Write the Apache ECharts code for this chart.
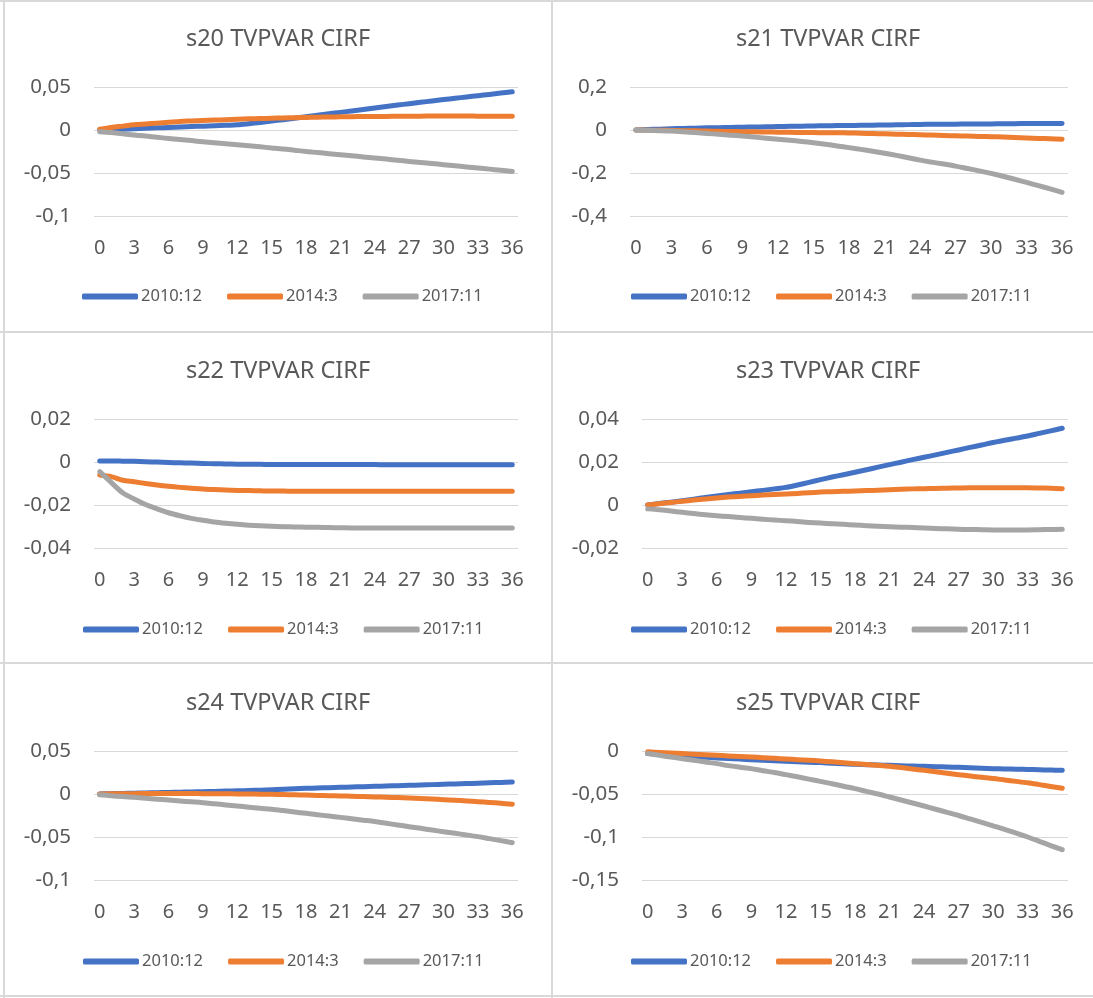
<!DOCTYPE html>
<html><head><meta charset="utf-8">
<script src="https://cdn.jsdelivr.net/npm/echarts@6/dist/echarts.min.js"></script>
<style>html,body{margin:0;padding:0;background:#fff}#c{width:1093px;height:998px}</style>
</head><body><div id="c"></div>
<script>
// ---------- DATA ----------
const horizons = ['0','1','2','3','4','5','6','7','8','9','10','11','12','13','14','15','16','17','18','19','20','21','22','23','24','25','26','27','28','29','30','31','32','33','34','35','36'];
const seriesNames = ['2010:12', '2014:3', '2017:11'];
const panelTitles = ['s20 TVPVAR CIRF', 's21 TVPVAR CIRF', 's22 TVPVAR CIRF', 's23 TVPVAR CIRF', 's24 TVPVAR CIRF', 's25 TVPVAR CIRF'];

const s20_2010_12 = [0,0.0005,0.001,0.0015,0.002,0.0025,0.003,0.0035,0.004,0.0045,0.005,0.0055,0.006,0.0073,0.0088,0.0104,0.012,0.0137,0.0154,0.0171,0.0188,0.0205,0.0222,0.0239,0.0257,0.0274,0.029,0.0306,0.0322,0.0338,0.0354,0.0369,0.0384,0.0399,0.0414,0.0429,0.0444];
const s20_2014_3  = [0.001,0.003,0.0045,0.006,0.007,0.008,0.009,0.010,0.0105,0.011,0.0115,0.012,0.0125,0.013,0.0133,0.0137,0.014,0.0143,0.0146,0.0149,0.0151,0.0153,0.0155,0.0156,0.0157,0.0158,0.0159,0.016,0.0161,0.0162,0.0162,0.0162,0.0162,0.0161,0.016,0.016,0.016];
const s20_2017_11 = [-0.002,-0.003,-0.0045,-0.0058,-0.007,-0.0085,-0.0098,-0.011,-0.0123,-0.0136,-0.0148,-0.016,-0.0172,-0.0184,-0.0196,-0.0208,-0.022,-0.0235,-0.025,-0.0262,-0.0275,-0.0288,-0.03,-0.0313,-0.0326,-0.0338,-0.0352,-0.0365,-0.0378,-0.039,-0.0403,-0.0416,-0.0429,-0.0442,-0.0455,-0.0468,-0.0483];

const s21_2010_12 = [0,0.002,0.004,0.006,0.007,0.0085,0.01,0.011,0.012,0.013,0.014,0.015,0.016,0.017,0.018,0.019,0.0197,0.0204,0.021,0.0218,0.0225,0.0232,0.024,0.025,0.026,0.0265,0.027,0.0273,0.0277,0.028,0.0283,0.029,0.0295,0.03,0.0305,0.0305,0.030];
const s21_2014_3  = [0,-0.0007,-0.0013,-0.002,-0.003,-0.004,-0.005,-0.006,-0.007,-0.008,-0.0087,-0.0094,-0.01,-0.0107,-0.0114,-0.012,-0.0125,-0.013,-0.0138,-0.015,-0.0165,-0.018,-0.0193,-0.0206,-0.022,-0.0237,-0.0254,-0.027,-0.0283,-0.0297,-0.031,-0.033,-0.035,-0.037,-0.039,-0.041,-0.043];
const s21_2017_11 = [0,-0.0015,-0.003,-0.005,-0.0085,-0.012,-0.016,-0.02,-0.024,-0.028,-0.033,-0.038,-0.043,-0.048,-0.053,-0.059,-0.066,-0.074,-0.082,-0.09,-0.099,-0.108,-0.118,-0.129,-0.14,-0.1495,-0.1585,-0.168,-0.179,-0.19,-0.202,-0.215,-0.229,-0.244,-0.259,-0.274,-0.29];

const s22_2010_12 = [0.0005,0.0005,0.0004,0.0003,0.0001,0,-0.0002,-0.0004,-0.0005,-0.0007,-0.0008,-0.0009,-0.001,-0.0011,-0.0011,-0.0012,-0.0012,-0.0012,-0.0012,-0.0012,-0.0012,-0.0012,-0.0012,-0.0012,-0.0012,-0.0013,-0.0013,-0.0013,-0.0013,-0.0013,-0.0013,-0.0013,-0.0013,-0.0013,-0.0013,-0.0013,-0.0013];
const s22_2014_3  = [-0.006,-0.0068,-0.0085,-0.0092,-0.01,-0.0107,-0.0113,-0.0118,-0.0122,-0.0126,-0.0128,-0.013,-0.0132,-0.0133,-0.0134,-0.0135,-0.0135,-0.0136,-0.0136,-0.0136,-0.0136,-0.0136,-0.0136,-0.0136,-0.0136,-0.0136,-0.0136,-0.0136,-0.0136,-0.0136,-0.0136,-0.0136,-0.0136,-0.0136,-0.0136,-0.0136,-0.0136];
const s22_2017_11 = [-0.0045,-0.0095,-0.0143,-0.0172,-0.0198,-0.0218,-0.0236,-0.025,-0.0262,-0.0271,-0.0279,-0.0285,-0.029,-0.0294,-0.0297,-0.0299,-0.0301,-0.0302,-0.0303,-0.0304,-0.0305,-0.0306,-0.0307,-0.0307,-0.0307,-0.0307,-0.0307,-0.0307,-0.0307,-0.0307,-0.0307,-0.0307,-0.0307,-0.0307,-0.0307,-0.0307,-0.0307];

const s23_2010_12 = [0,0.0007,0.0013,0.002,0.0027,0.0035,0.0042,0.0049,0.0055,0.0062,0.0068,0.0075,0.0082,0.0093,0.0105,0.0118,0.013,0.0141,0.0152,0.0164,0.0176,0.0188,0.0199,0.0211,0.0222,0.0233,0.0245,0.0256,0.0268,0.0279,0.0291,0.0301,0.0311,0.0321,0.0333,0.0345,0.0357];
const s23_2014_3  = [0,0.0006,0.0012,0.0017,0.0023,0.0028,0.0033,0.0037,0.004,0.0043,0.0046,0.0049,0.0051,0.0054,0.0057,0.006,0.0062,0.0064,0.0065,0.0067,0.0069,0.0071,0.0073,0.0075,0.0076,0.0077,0.0078,0.0079,0.008,0.008,0.008,0.008,0.008,0.008,0.0079,0.0078,0.0076];
const s23_2017_11 = [-0.0018,-0.0022,-0.0028,-0.0034,-0.004,-0.0045,-0.005,-0.0054,-0.0058,-0.0062,-0.0066,-0.007,-0.0073,-0.0077,-0.0081,-0.0084,-0.0087,-0.009,-0.0093,-0.0096,-0.0099,-0.0101,-0.0103,-0.0105,-0.0107,-0.0109,-0.0111,-0.0113,-0.0114,-0.0115,-0.0116,-0.0116,-0.0116,-0.0116,-0.0115,-0.0114,-0.0113];

const s24_2010_12 = [0,0.0003,0.0006,0.0009,0.0012,0.0015,0.0018,0.0021,0.0024,0.0027,0.003,0.0034,0.0037,0.0041,0.0045,0.0049,0.0054,0.006,0.0066,0.007,0.0074,0.0078,0.0081,0.0085,0.0089,0.0093,0.0097,0.0101,0.0105,0.0109,0.0113,0.0117,0.0121,0.0125,0.013,0.0135,0.014];
const s24_2014_3  = [0,0.0002,0.0003,0.0004,0.0005,0.0005,0.0005,0.0005,0.0005,0.0004,0.0003,0.0002,0.0001,0,-0.0002,-0.0004,-0.0007,-0.001,-0.0013,-0.0016,-0.0019,-0.0022,-0.0026,-0.003,-0.0034,-0.0038,-0.0042,-0.0047,-0.0053,-0.0059,-0.0066,-0.0073,-0.0081,-0.0089,-0.0098,-0.0108,-0.012];
const s24_2017_11 = [-0.001,-0.002,-0.003,-0.0039,-0.0049,-0.006,-0.007,-0.0081,-0.0091,-0.0101,-0.0114,-0.0127,-0.014,-0.0153,-0.0166,-0.0178,-0.0193,-0.0209,-0.0225,-0.0241,-0.0256,-0.0272,-0.0288,-0.0304,-0.032,-0.034,-0.036,-0.038,-0.0399,-0.0419,-0.0438,-0.0457,-0.0476,-0.0496,-0.0519,-0.0542,-0.0566];

const s25_2010_12 = [-0.003,-0.004,-0.005,-0.006,-0.0067,-0.0074,-0.008,-0.0087,-0.0094,-0.0101,-0.0108,-0.0114,-0.012,-0.0125,-0.013,-0.0135,-0.0142,-0.0148,-0.0155,-0.0159,-0.0163,-0.0167,-0.0171,-0.0175,-0.0178,-0.0182,-0.0186,-0.019,-0.0195,-0.02,-0.0205,-0.0208,-0.0211,-0.0214,-0.0218,-0.0222,-0.0225];
const s25_2014_3  = [-0.001,-0.0017,-0.0024,-0.003,-0.0037,-0.0044,-0.005,-0.0057,-0.0063,-0.007,-0.0078,-0.0085,-0.0093,-0.0101,-0.0108,-0.0116,-0.0126,-0.0136,-0.0147,-0.0157,-0.0167,-0.0178,-0.0193,-0.0209,-0.0225,-0.0242,-0.0258,-0.0275,-0.0291,-0.0306,-0.032,-0.0337,-0.0353,-0.037,-0.0391,-0.0412,-0.0434];
const s25_2017_11 = [-0.003,-0.005,-0.007,-0.0089,-0.0108,-0.0128,-0.0147,-0.017,-0.0188,-0.0205,-0.023,-0.025,-0.0275,-0.03,-0.0327,-0.0353,-0.038,-0.041,-0.0438,-0.047,-0.05,-0.0535,-0.057,-0.0605,-0.064,-0.0677,-0.0713,-0.075,-0.079,-0.083,-0.087,-0.091,-0.0955,-0.1,-0.105,-0.11,-0.1147];

// y-axis tick ranges per panel (min, max, step)
const yTicks = [
  [-0.1, 0.05, 0.05],
  [-0.4, 0.2, 0.2],
  [-0.04, 0.02, 0.02],
  [-0.02, 0.04, 0.02],
  [-0.1, 0.05, 0.05],
  [-0.15, 0, 0.05]
];

const panelData = [
  [s20_2010_12, s20_2014_3, s20_2017_11],
  [s21_2010_12, s21_2014_3, s21_2017_11],
  [s22_2010_12, s22_2014_3, s22_2017_11],
  [s23_2010_12, s23_2014_3, s23_2017_11],
  [s24_2010_12, s24_2014_3, s24_2017_11],
  [s25_2010_12, s25_2014_3, s25_2017_11]
];

// ---------- LAYOUT / STYLE ----------
const colors = ['#4472C4', '#ED7D31', '#A5A5A5'];
const txt = '#595959';
const FONT = 'Noto Sans';
const layout = [
  {grid: {left: 94,  top: 87,  width: 424, height: 129}, tx: 278, ty: 38,  lx: 82,  ly: 296},
  {grid: {left: 630, top: 87,  width: 438, height: 129}, tx: 828, ty: 38,  lx: 631, ly: 296},
  {grid: {left: 94,  top: 419, width: 424, height: 129}, tx: 278, ty: 370, lx: 83,  ly: 629},
  {grid: {left: 642, top: 419, width: 426, height: 129}, tx: 828, ty: 370, lx: 631, ly: 629},
  {grid: {left: 94,  top: 751, width: 424, height: 129}, tx: 278, ty: 702, lx: 83,  ly: 961},
  {grid: {left: 642, top: 751, width: 426, height: 129}, tx: 828, ty: 702, lx: 631, ly: 961}
];

function fmt(v) {
  const r = Math.round(v * 10000) / 10000;
  return String(r).replace('.', ',');
}

const option = {
  backgroundColor: '#ffffff',
  animation: false,
  title: [], legend: [], grid: [], xAxis: [], yAxis: [], series: [],
  graphic: []
};

layout.forEach((L, i) => {
  option.title.push({
    text: panelTitles[i], left: L.tx, top: L.ty - 11, textAlign: 'center', padding: 0,
    textStyle: {fontFamily: FONT, fontSize: 23.5, fontWeight: 'normal', color: txt}
  });
  option.grid.push(Object.assign({containLabel: false}, L.grid));
  option.xAxis.push({
    type: 'category', gridIndex: i, data: horizons, boundaryGap: true,
    axisLine: {show: false}, axisTick: {show: false},
    axisLabel: {interval: 2, margin: 22, fontFamily: FONT, fontSize: 20, color: txt},
    splitLine: {show: false}
  });
  option.yAxis.push({
    type: 'value', gridIndex: i, min: yTicks[i][0], max: yTicks[i][1], interval: yTicks[i][2],
    axisLine: {show: false}, axisTick: {show: false},
    axisLabel: {margin: 23, fontFamily: FONT, fontSize: 20.5, color: txt, formatter: fmt},
    splitLine: {lineStyle: {color: '#d9d9d9', width: 1}}
  });
  seriesNames.forEach((nm, k) => {
    option.series.push({
      type: 'line', name: nm, xAxisIndex: i, yAxisIndex: i,
      data: panelData[i][k], smooth: 0.3, symbol: 'none',
      lineStyle: {color: colors[k], width: 5, cap: 'round', join: 'round'},
      itemStyle: {color: colors[k]}, z: 3 + k
    });
  });
  option.legend.push({
    left: L.lx, top: L.ly - 8, orient: 'horizontal', padding: 0,
    data: seriesNames,
    icon: 'roundRect', itemWidth: 56, itemHeight: 6, itemGap: 25,
    textStyle: {fontFamily: FONT, fontSize: 16.5, color: txt, padding: [0, 0, 0, -2]},
    selectedMode: false
  });
});

// panel borders
const bc = '#d9d9d9';
[[4, 0, 4, 998], [552, 0, 552, 998], [0, 1, 1093, 1], [0, 332, 1093, 332], [0, 663, 1093, 663], [0, 996, 1093, 996]].forEach(l => {
  option.graphic.push({type: 'line', shape: {x1: l[0], y1: l[1], x2: l[2], y2: l[3]}, style: {stroke: bc, lineWidth: 2}, silent: true, z: -1});
});

const chart = echarts.init(document.getElementById('c'), null, {renderer: 'canvas'});
chart.setOption(option);
</script>
</body></html>
